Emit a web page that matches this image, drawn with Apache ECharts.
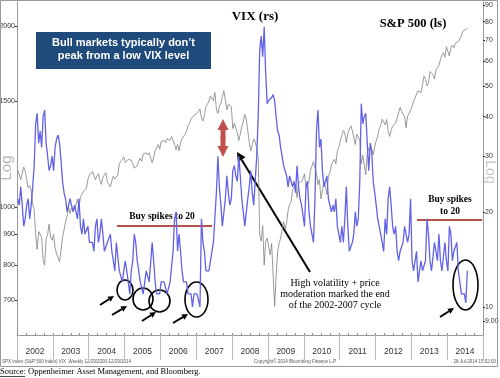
<!DOCTYPE html>
<html>
<head>
<meta charset="utf-8">
<script src="https://cdn.jsdelivr.net/npm/echarts@6/dist/echarts.min.js"></script>
<style>
  html, body { margin: 0; padding: 0; background: #fff; }
  #chart { width: 500px; height: 378px; }
</style>
</head>
<body>
<div id="chart"></div>
<script>
// S&P 500 vs VIX, half-monthly readings from Jan 2002 to Jul 2014
const years = ['2002', '2003', '2004', '2005', '2006', '2007', '2008', '2009', '2010', '2011', '2012', '2013', '2014'];
const spxTicks = [700, 800, 900, 1000, 1500, 2000];
const vixTicks = [9, 10, 20, 30, 40, 50, 60, 70, 80, 90];
const startYear = 2002;
const perYear = 24;

const spx = [
  1150,1130, 1110,1106, 1165,1147, 1110,1076, 1085,1067, 1010,990, 900,850, 910,916, 890,815, 800,885, 900,936, 890,880,
  900,855, 835,841, 810,848, 890,916, 945,963, 1000,975, 995,990, 990,1008, 1030,996, 1040,1050, 1060,1058, 1075,1112,
  1130,1131, 1145,1144, 1110,1126, 1135,1107, 1090,1120, 1130,1140, 1100,1101, 1080,1104, 1125,1114, 1110,1130, 1180,1173, 1200,1212,
  1185,1181, 1200,1203, 1195,1180, 1160,1156, 1170,1191, 1205,1191, 1225,1234, 1230,1220, 1230,1228, 1185,1207, 1240,1249, 1270,1248,
  1285,1280, 1290,1280, 1300,1294, 1290,1310, 1290,1270, 1245,1270, 1240,1277, 1300,1304, 1320,1336, 1365,1378, 1400,1400, 1420,1418,
  1430,1438, 1455,1406, 1390,1420, 1470,1482, 1500,1530, 1520,1503, 1550,1455, 1430,1473, 1485,1527, 1560,1549, 1450,1481, 1485,1468,
  1350,1378, 1350,1330, 1290,1322, 1360,1385, 1425,1400, 1340,1280, 1240,1267, 1298,1282, 1250,1213, 899,877, 930,800, 876,887,
  890,832, 869,770, 683,768, 842,869, 887,919, 945,919, 940,987, 1010,1020, 1065,1057, 1090,1036, 1095,1096, 1102,1115,
  1135,1074, 1075,1104, 1150,1169, 1190,1187, 1135,1089, 1110,1031, 1065,1102, 1080,1049, 1125,1141, 1175,1183, 1200,1180, 1240,1258,
  1290,1286, 1340,1327, 1280,1326, 1320,1364, 1340,1345, 1270,1321, 1316,1292, 1180,1219, 1215,1131, 1225,1253, 1250,1247, 1220,1258,
  1290,1312, 1350,1366, 1400,1408, 1370,1398, 1340,1310, 1340,1362, 1360,1379, 1405,1406, 1465,1441, 1430,1412, 1355,1416, 1430,1426,
  1470,1498, 1520,1515, 1560,1569, 1550,1597, 1650,1631, 1590,1606, 1680,1686, 1660,1633, 1690,1682, 1720,1757, 1790,1806, 1775,1848,
  1840,1783, 1840,1859, 1840,1872, 1865,1884, 1880,1924, 1960,1960, 1975,1980
];

const vix = [
  22,21, 24,21, 18,19, 21,22, 19,21, 24,28, 38,41, 33,36, 32,40, 42,33, 30,27, 28,30,
  27,32, 34,35, 33,29, 25,23, 22,20, 20,22, 21,20, 21,20, 19,22, 18,17, 19,17, 17,18,
  16,16, 16,15, 18,19, 16,17, 19,17, 15,15, 16,16, 17,15, 14,13, 16,16, 13,13, 12,13,
  14,14, 12,11, 13,14, 17,16, 14,13, 12,12, 11,11, 13,13, 12,12, 16,14, 12,11, 11,11,
  12,12, 12,12, 11,11, 12,12, 15,19, 20,15, 17,15, 13,12, 12,12, 11,11, 11,10, 11,11,
  11,11, 10,19, 16,15, 13,13, 13,13, 15,16, 16,23, 30,24, 21,18, 18,22, 26,23, 21,22,
  27,28, 26,25, 30,26, 22,20, 18,18, 22,24, 27,23, 21,21, 30,40, 65,72, 62,77, 55,44,
  45,45, 46,47, 45,40, 36,35, 32,30, 28,27, 26,24, 26,25, 24,25, 23,28, 24,22, 21,21,
  18,24, 25,20, 18,17, 16,22, 36,42, 32,34, 27,24, 24,26, 22,22, 20,21, 20,22, 18,17,
  16,18, 16,19, 24,18, 15,15, 16,17, 20,18, 19,25, 44,38, 40,41, 33,27, 33,31, 25,23,
  21,19, 18,18, 16,15, 19,17, 22,24, 21,18, 17,18, 15,14, 15,15, 16,18, 18,16, 17,22,
  14,13, 13,15, 12,13, 14,13, 13,14, 19,17, 14,13, 13,16, 15,14, 17,14, 13,13, 16,14,
  13,18, 17,14, 15,15, 16,13, 12,11, 11,11, 10.3,13
];

const toPoints = arr => arr.map((v, i) => [startYear + (i + 0.5) / perYear, v]);

const serif = '"Liberation Serif", "Times New Roman", serif';
const sans = '"Liberation Sans", Arial, sans-serif';
const narrow = '"Liberation Sans Narrow", "Liberation Sans", Arial, sans-serif';

// arrow with a filled head at (x2, y2)
function arrow(x1, y1, x2, y2, w, head, color) {
  const a = Math.atan2(y2 - y1, x2 - x1);
  const bx = x2 - head * Math.cos(a), by = y2 - head * Math.sin(a);
  const hw = head * 0.5;
  return {
    type: 'group',
    children: [
      { type: 'line', shape: { x1: x1, y1: y1, x2: bx, y2: by }, style: { stroke: color, lineWidth: w } },
      { type: 'polygon', shape: { points: [[x2, y2], [bx - hw * Math.sin(a), by + hw * Math.cos(a)], [bx + hw * Math.sin(a), by - hw * Math.cos(a)]] }, style: { fill: color } }
    ]
  };
}

function ellipse(cx, cy, rx, ry) {
  return { type: 'ellipse', shape: { cx: cx, cy: cy, rx: rx, ry: ry }, style: { fill: null, stroke: '#000', lineWidth: 1.6 } };
}

function text(x, y, str, opts) {
  return {
    type: 'text', x: x, y: y, rotation: opts.rotation || 0,
    style: Object.assign({ text: str, align: 'center', verticalAlign: 'middle', fill: '#000' }, opts.style)
  };
}

const chart = echarts.init(document.getElementById('chart'), null, { renderer: 'canvas' });

const option = {
  animation: false,
  backgroundColor: '#fff',
  grid: { left: 17, right: 17, top: 2, bottom: 43, containLabel: false, outerBoundsMode: 'none' },
  xAxis: [
    {
      type: 'value', min: 2002, max: 2015, interval: 0.25,
      axisLine: { show: true, lineStyle: { color: '#999', width: 1 } },
      axisTick: { show: true, length: 2, inside: true, lineStyle: { color: '#888' } },
      axisLabel: { show: false },
      splitLine: { show: false }
    },
    {
      type: 'category', data: years, position: 'bottom', boundaryGap: true,
      axisLine: { show: false },
      axisTick: { show: true, length: 25, interval: 0, lineStyle: { color: '#bbb' } },
      axisLabel: { interval: 0, margin: 12, fontSize: 8.5, color: '#333', fontFamily: narrow },
      splitLine: { show: false }
    }
  ],
  yAxis: [
    {
      type: 'log', logBase: 10, min: 612, max: 2193, position: 'left',
      axisLine: { show: true, lineStyle: { color: '#999' } },
      axisTick: { show: true, length: 2, customValues: spxTicks, lineStyle: { color: '#333' } },
      axisLabel: {
        customValues: spxTicks, margin: 2, fontSize: 7, color: '#333', fontFamily: narrow,
        formatter: v => String(Math.round(v))
      },
      splitLine: { show: false },
      minorTick: { show: false }
    },
    {
      type: 'log', logBase: 10, min: 8.15, max: 92.3, position: 'right',
      axisLine: { show: true, lineStyle: { color: '#999' } },
      axisTick: { show: true, length: 2, customValues: vixTicks, lineStyle: { color: '#333' } },
      axisLabel: {
        customValues: vixTicks, margin: 2, fontSize: 7, color: '#333', fontFamily: narrow,
        formatter: v => (v < 10 ? v.toFixed(2) : String(Math.round(v)))
      },
      splitLine: { show: false }
    }
  ],
  series: [
    {
      name: 'S&P 500', type: 'line', xAxisIndex: 0, yAxisIndex: 0,
      data: toPoints(spx), showSymbol: false, symbol: 'none',
      lineStyle: { color: '#808080', width: 0.8 }, z: 2
    },
    {
      name: 'VIX', type: 'line', xAxisIndex: 0, yAxisIndex: 1,
      data: toPoints(vix), showSymbol: false, symbol: 'none',
      lineStyle: { color: '#6262e6', width: 1.3 }, z: 3
    }
  ],
  graphic: [
    // outer frame and footer strip
    { type: 'rect', shape: { x: 0.5, y: 0.5, width: 497, height: 366 }, style: { fill: null, stroke: '#999', lineWidth: 1 }, z: 1 },
    text(2, 362, 'SPX Index (S&P 500 Index) VIX  Weekly 12/29/2000-12/29/2014', { style: { align: 'left', fontSize: 4.5, fill: '#555', fontFamily: sans } }),
    text(254, 362, 'Copyright\u00a9 2014 Bloomberg Finance L.P.', { style: { align: 'left', fontSize: 4.5, fill: '#555', fontFamily: sans } }),
    text(496, 362, '28-Jul-2014 15:02:00', { style: { align: 'right', fontSize: 4.5, fill: '#555', fontFamily: sans } }),
    text(0, 372, 'Source: Oppenheimer Asset Management, and Bloomberg.', { style: { align: 'left', fontSize: 8.5, fontFamily: serif } }),
    { type: 'line', shape: { x1: 0, y1: 376.5, x2: 25, y2: 376.5 }, style: { stroke: '#000', lineWidth: 0.7 } },
    // "Log" marks
    text(7, 168, 'Log', { rotation: Math.PI / 2, style: { fontSize: 15, fill: '#b5b5b5', fontFamily: sans } }),
    text(490, 172, 'Log', { rotation: -Math.PI / 2, style: { fontSize: 14, fill: '#c5c5c5', fontFamily: sans } }),
    // title box
    { type: 'rect', shape: { x: 36, y: 32, width: 175, height: 37 }, style: { fill: '#1f4a7c' } },
    text(123.5, 43, 'Bull markets typically don\u2019t', { style: { fontSize: 11, fontWeight: 'bold', fill: '#fff', fontFamily: sans } }),
    text(123.5, 56, 'peak from a low VIX level', { style: { fontSize: 11, fontWeight: 'bold', fill: '#fff', fontFamily: sans } }),
    // series labels
    text(255, 17, 'VIX (rs)', { style: { fontSize: 13, fontWeight: 'bold', fontFamily: serif } }),
    text(413, 24, 'S&P 500 (ls)', { style: { fontSize: 12.5, fontWeight: 'bold', fontFamily: serif } }),
    // buy spikes notes
    text(162, 217, 'Buy spikes to 20', { style: { fontSize: 9.5, fontWeight: 'bold', fontFamily: serif } }),
    { type: 'line', shape: { x1: 117, y1: 226, x2: 212, y2: 226 }, style: { stroke: '#b8514c', lineWidth: 2 } },
    text(450, 200, 'Buy spikes', { style: { fontSize: 9.5, fontWeight: 'bold', fontFamily: serif } }),
    text(450, 212, 'to 20', { style: { fontSize: 9.5, fontWeight: 'bold', fontFamily: serif } }),
    { type: 'line', shape: { x1: 417, y1: 220, x2: 482, y2: 220 }, style: { stroke: '#b8514c', lineWidth: 2 } },
    // cycle note
    text(335, 283, 'High volatility + price', { style: { fontSize: 10, fontFamily: serif } }),
    text(335, 294, 'moderation marked the end', { style: { fontSize: 10, fontFamily: serif } }),
    text(335, 305, 'of the 2002-2007 cycle', { style: { fontSize: 10, fontFamily: serif } }),
    arrow(310, 272, 237, 152, 2, 9, '#000'),
    // red double arrow
    arrow(223, 139, 223, 119, 5, 11, '#c0504d'),
    arrow(223, 137, 223, 157, 5, 11, '#c0504d'),
    // circles on low VIX readings
    ellipse(125, 290, 8, 10),
    ellipse(143, 299, 10, 11),
    ellipse(159.5, 301, 10.5, 11),
    ellipse(196.5, 299.5, 11.5, 17.5),
    ellipse(465.5, 285, 12.5, 25),
    arrow(100, 305, 114, 296, 2, 6, '#000'),
    arrow(112, 315, 127, 306, 2, 6, '#000'),
    arrow(142, 321, 156, 312, 2, 6, '#000'),
    arrow(173, 323, 188, 314, 2, 6, '#000'),
    arrow(440, 317, 454, 308, 2, 6, '#000')
  ]
};

chart.setOption(option);
</script>
</body>
</html>
